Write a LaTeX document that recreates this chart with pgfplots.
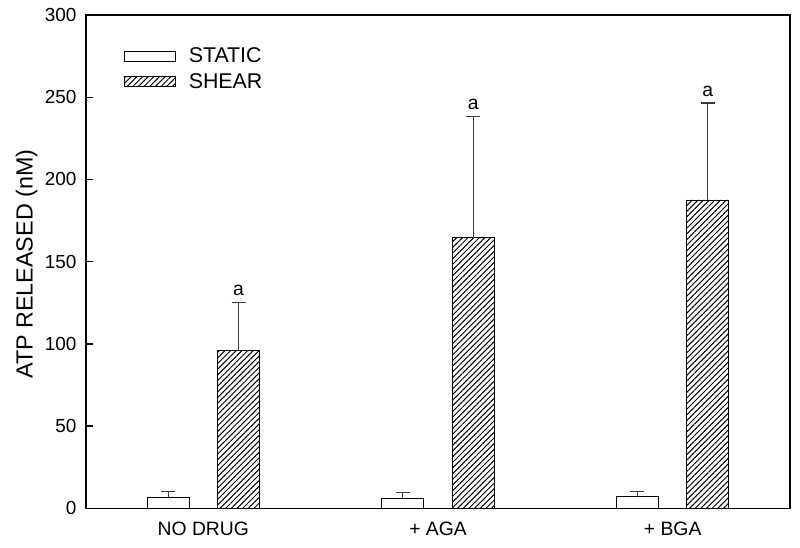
\documentclass[border=0pt]{standalone}
\usepackage{fontspec}
\setmainfont{Liberation Sans}
\usepackage{pgfplots}
\pgfplotsset{compat=1.18}
\usetikzlibrary{patterns.meta}
\definecolor{errc}{RGB}{60,60,60}
\begin{document}
\begin{tikzpicture}
\begin{axis}[
  name=ax,
  scale only axis, width=528pt, height=370pt,
  xmin=-0.5, xmax=2.5, ymin=0, ymax=300,
  xtick={0,1,2}, xticklabels={NO DRUG,+ AGA,+ BGA},
  ytick={0,50,...,300},
  ytick pos=left, tick align=inside, xtick style={draw=none},
  major tick length=5pt,
  /pgf/number format/assume math mode=true,
  yticklabel style={font=\fontsize{14.2}{16}\selectfont, xshift=-3.6pt},
  xticklabel style={font=\fontsize{14.5}{16}\selectfont, anchor=base, yshift=-20.6pt},
  ylabel={ATP RELEASED (nM)},
  every axis y label/.style={at={(rel axis cs:0,0.495)}, xshift=-44.5pt, rotate=90, anchor=center,
    font=\fontsize{17.5}{20}\selectfont},
  axis line style={line width=1pt},
  every tick/.style={line width=1pt, black},
  legend style={draw=none, fill=none, at={(0.048,0.945)}, anchor=north west,
    font=\fontsize{16}{19}\selectfont, row sep=2.5pt},
  legend cell align=left,
  legend image code/.code={\draw[#1] (0pt,-3.75pt) rectangle (38.25pt,3.75pt); \path (46pt,0pt);},
  error bars/y dir=plus, error bars/y explicit,
  error bars/error bar style={errc, line width=0.8pt},
  error bars/error mark options={rotate=90, errc, mark size=5.25pt, line width=0.8pt},
]
\addplot[ybar, bar width=0.179, bar shift=0, draw=black, fill=white, line width=0.6pt]
  coordinates {(-0.15,6.9) +- (0,3.6) (0.85,6.2) +- (0,3.3) (1.85,7.0) +- (0,3.1)};
\addlegendentry{STATIC}
\addplot[ybar, bar width=0.179, bar shift=0, draw=black, line width=0.6pt, fill=white,
  postaction={pattern={Lines[angle=45,distance=3pt,line width=0.75pt]}}]
  coordinates {(0.15,96.2) +- (0,29.2) (1.15,164.5) +- (0,74) (2.15,187.5) +- (0,59)};
\addlegendentry{SHEAR}
\node[above, font=\fontsize{14.5}{16}\selectfont, inner sep=4.5pt] at (axis cs:0.15,125.4) {a};
\node[above, font=\fontsize{14.5}{16}\selectfont, inner sep=4.5pt] at (axis cs:1.15,238.5) {a};
\node[above, font=\fontsize{14.5}{16}\selectfont, inner sep=4.5pt] at (axis cs:2.15,246.5) {a};
\end{axis}
\pgfresetboundingbox
\path ([shift={(-64.5pt,-29.25pt)}]ax.south west) rectangle ([shift={(7.5pt,11.25pt)}]ax.north east);
\end{tikzpicture}
\end{document}
